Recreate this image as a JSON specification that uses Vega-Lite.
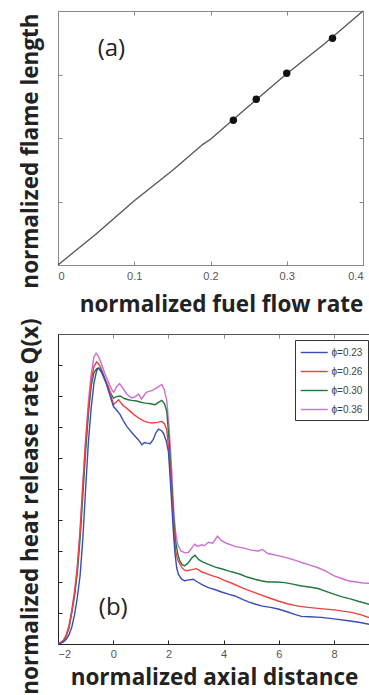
{
  "$schema": "https://vega.github.io/schema/vega-lite/v6.json",
  "padding": {"left": 18, "top": 7, "right": 0, "bottom": 0},
  "background": "white",
  "bounds": "flush",
  "spacing": 69,
  "config": {
    "view": {"stroke": "#888", "strokeWidth": 1},
    "axis": {
      "titleFont": "Open Sans", "titleFontWeight": "bold", "titleFontSize": 22.5, "titleColor": "#222",
      "labelFont": "Liberation Sans Narrow, Liberation Sans, sans-serif", "labelFontSize": 11, "labelColor": "#555",
      "domainColor": "#888", "tickColor": "#888", "grid": false, "tickSize": -4
    }
  },
  "datasets": {
    "flame": [
      {"q": 0, "L": 0}, {"q": 0.05, "L": 0.049}, {"q": 0.1, "L": 0.101}, {"q": 0.15, "L": 0.149},
      {"q": 0.19, "L": 0.19}, {"q": 0.2, "L": 0.198}, {"q": 0.25, "L": 0.25}, {"q": 0.3, "L": 0.301},
      {"q": 0.35, "L": 0.349}, {"q": 0.4, "L": 0.4}
    ],
    "pts": [
      {"q": 0.23, "L": 0.228}, {"q": 0.26, "L": 0.261}, {"q": 0.3, "L": 0.302}, {"q": 0.36, "L": 0.357}
    ],
    "lab_a": [{"q": 0.07, "L": 0.34, "t": "(a)"}],
    "lab_b": [{"x": 0.0, "Q": 1.16, "t": "(b)"}],
    "curves": [
      {"phi": "ϕ=0.36", "x": -2.0, "Q": 0.02}, {"phi": "ϕ=0.36", "x": -1.9, "Q": 0.05}, {"phi": "ϕ=0.36", "x": -1.8, "Q": 0.12}, {"phi": "ϕ=0.36", "x": -1.7, "Q": 0.3}, {"phi": "ϕ=0.36", "x": -1.6, "Q": 0.6}, {"phi": "ϕ=0.36", "x": -1.5, "Q": 1.1}, {"phi": "ϕ=0.36", "x": -1.4, "Q": 1.7}, {"phi": "ϕ=0.36", "x": -1.3, "Q": 2.5}, {"phi": "ϕ=0.36", "x": -1.2, "Q": 3.7}, {"phi": "ϕ=0.36", "x": -1.1, "Q": 5.2}, {"phi": "ϕ=0.36", "x": -1.0, "Q": 6.6}, {"phi": "ϕ=0.36", "x": -0.9, "Q": 7.8}, {"phi": "ϕ=0.36", "x": -0.8, "Q": 8.7}, {"phi": "ϕ=0.36", "x": -0.7, "Q": 9.25}, {"phi": "ϕ=0.36", "x": -0.62, "Q": 9.38}, {"phi": "ϕ=0.36", "x": -0.55, "Q": 9.3}, {"phi": "ϕ=0.36", "x": -0.45, "Q": 9.1}, {"phi": "ϕ=0.36", "x": -0.35, "Q": 8.85}, {"phi": "ϕ=0.36", "x": -0.25, "Q": 8.6}, {"phi": "ϕ=0.36", "x": -0.15, "Q": 8.4}, {"phi": "ϕ=0.36", "x": -0.05, "Q": 8.2}, {"phi": "ϕ=0.36", "x": 0.02, "Q": 8.12}, {"phi": "ϕ=0.36", "x": 0.12, "Q": 8.3}, {"phi": "ϕ=0.36", "x": 0.23, "Q": 8.4}, {"phi": "ϕ=0.36", "x": 0.35, "Q": 8.25}, {"phi": "ϕ=0.36", "x": 0.5, "Q": 8.05}, {"phi": "ϕ=0.36", "x": 0.67, "Q": 7.94}, {"phi": "ϕ=0.36", "x": 0.8, "Q": 7.98}, {"phi": "ϕ=0.36", "x": 0.92, "Q": 8.06}, {"phi": "ϕ=0.36", "x": 1.02, "Q": 7.9}, {"phi": "ϕ=0.36", "x": 1.1, "Q": 8.0}, {"phi": "ϕ=0.36", "x": 1.2, "Q": 8.12}, {"phi": "ϕ=0.36", "x": 1.3, "Q": 8.15}, {"phi": "ϕ=0.36", "x": 1.45, "Q": 8.2}, {"phi": "ϕ=0.36", "x": 1.6, "Q": 8.28}, {"phi": "ϕ=0.36", "x": 1.76, "Q": 8.37}, {"phi": "ϕ=0.36", "x": 1.85, "Q": 8.2}, {"phi": "ϕ=0.36", "x": 1.94, "Q": 7.85}, {"phi": "ϕ=0.36", "x": 2.02, "Q": 7.0}, {"phi": "ϕ=0.36", "x": 2.08, "Q": 6.2}, {"phi": "ϕ=0.36", "x": 2.14, "Q": 5.2}, {"phi": "ϕ=0.36", "x": 2.2, "Q": 4.2}, {"phi": "ϕ=0.36", "x": 2.26, "Q": 3.6}, {"phi": "ϕ=0.36", "x": 2.34, "Q": 3.2}, {"phi": "ϕ=0.36", "x": 2.45, "Q": 3.0}, {"phi": "ϕ=0.36", "x": 2.6, "Q": 2.94}, {"phi": "ϕ=0.36", "x": 2.72, "Q": 2.95}, {"phi": "ϕ=0.36", "x": 2.85, "Q": 3.1}, {"phi": "ϕ=0.36", "x": 2.95, "Q": 3.22}, {"phi": "ϕ=0.36", "x": 3.05, "Q": 3.15}, {"phi": "ϕ=0.36", "x": 3.2, "Q": 3.2}, {"phi": "ϕ=0.36", "x": 3.3, "Q": 3.17}, {"phi": "ϕ=0.36", "x": 3.45, "Q": 3.28}, {"phi": "ϕ=0.36", "x": 3.6, "Q": 3.25}, {"phi": "ϕ=0.36", "x": 3.78, "Q": 3.48}, {"phi": "ϕ=0.36", "x": 3.9, "Q": 3.35}, {"phi": "ϕ=0.36", "x": 4.1, "Q": 3.25}, {"phi": "ϕ=0.36", "x": 4.4, "Q": 3.15}, {"phi": "ϕ=0.36", "x": 4.7, "Q": 3.1}, {"phi": "ϕ=0.36", "x": 5.0, "Q": 3.03}, {"phi": "ϕ=0.36", "x": 5.25, "Q": 3.0}, {"phi": "ϕ=0.36", "x": 5.4, "Q": 3.05}, {"phi": "ϕ=0.36", "x": 5.6, "Q": 2.92}, {"phi": "ϕ=0.36", "x": 5.97, "Q": 2.85}, {"phi": "ϕ=0.36", "x": 6.3, "Q": 2.78}, {"phi": "ϕ=0.36", "x": 6.6, "Q": 2.7}, {"phi": "ϕ=0.36", "x": 6.82, "Q": 2.63}, {"phi": "ϕ=0.36", "x": 7.1, "Q": 2.55}, {"phi": "ϕ=0.36", "x": 7.42, "Q": 2.46}, {"phi": "ϕ=0.36", "x": 7.7, "Q": 2.35}, {"phi": "ϕ=0.36", "x": 8.0, "Q": 2.2}, {"phi": "ϕ=0.36", "x": 8.25, "Q": 2.12}, {"phi": "ϕ=0.36", "x": 8.5, "Q": 2.04}, {"phi": "ϕ=0.36", "x": 8.8, "Q": 2.0}, {"phi": "ϕ=0.36", "x": 9.05, "Q": 1.97}, {"phi": "ϕ=0.36", "x": 9.3, "Q": 1.96},

      {"phi": "ϕ=0.30", "x": -2.0, "Q": 0.02}, {"phi": "ϕ=0.30", "x": -1.9, "Q": 0.04}, {"phi": "ϕ=0.30", "x": -1.8, "Q": 0.1}, {"phi": "ϕ=0.30", "x": -1.7, "Q": 0.25}, {"phi": "ϕ=0.30", "x": -1.6, "Q": 0.52}, {"phi": "ϕ=0.30", "x": -1.5, "Q": 1.0}, {"phi": "ϕ=0.30", "x": -1.4, "Q": 1.55}, {"phi": "ϕ=0.30", "x": -1.3, "Q": 2.3}, {"phi": "ϕ=0.30", "x": -1.2, "Q": 3.4}, {"phi": "ϕ=0.30", "x": -1.1, "Q": 4.8}, {"phi": "ϕ=0.30", "x": -1.0, "Q": 6.2}, {"phi": "ϕ=0.30", "x": -0.9, "Q": 7.4}, {"phi": "ϕ=0.30", "x": -0.8, "Q": 8.3}, {"phi": "ϕ=0.30", "x": -0.7, "Q": 8.75}, {"phi": "ϕ=0.30", "x": -0.6, "Q": 8.88}, {"phi": "ϕ=0.30", "x": -0.52, "Q": 8.9}, {"phi": "ϕ=0.30", "x": -0.42, "Q": 8.75}, {"phi": "ϕ=0.30", "x": -0.3, "Q": 8.5}, {"phi": "ϕ=0.30", "x": -0.2, "Q": 8.3}, {"phi": "ϕ=0.30", "x": -0.1, "Q": 8.1}, {"phi": "ϕ=0.30", "x": 0.01, "Q": 7.93}, {"phi": "ϕ=0.30", "x": 0.12, "Q": 7.98}, {"phi": "ϕ=0.30", "x": 0.25, "Q": 8.0}, {"phi": "ϕ=0.30", "x": 0.4, "Q": 7.92}, {"phi": "ϕ=0.30", "x": 0.55, "Q": 7.88}, {"phi": "ϕ=0.30", "x": 0.67, "Q": 7.86}, {"phi": "ϕ=0.30", "x": 0.85, "Q": 7.84}, {"phi": "ϕ=0.30", "x": 1.0, "Q": 7.8}, {"phi": "ϕ=0.30", "x": 1.16, "Q": 7.77}, {"phi": "ϕ=0.30", "x": 1.3, "Q": 7.76}, {"phi": "ϕ=0.30", "x": 1.52, "Q": 7.72}, {"phi": "ϕ=0.30", "x": 1.65, "Q": 7.8}, {"phi": "ϕ=0.30", "x": 1.76, "Q": 7.86}, {"phi": "ϕ=0.30", "x": 1.86, "Q": 7.75}, {"phi": "ϕ=0.30", "x": 1.94, "Q": 7.5}, {"phi": "ϕ=0.30", "x": 2.02, "Q": 6.6}, {"phi": "ϕ=0.30", "x": 2.08, "Q": 5.7}, {"phi": "ϕ=0.30", "x": 2.14, "Q": 4.8}, {"phi": "ϕ=0.30", "x": 2.2, "Q": 3.9}, {"phi": "ϕ=0.30", "x": 2.26, "Q": 3.3}, {"phi": "ϕ=0.30", "x": 2.34, "Q": 2.9}, {"phi": "ϕ=0.30", "x": 2.41, "Q": 2.68}, {"phi": "ϕ=0.30", "x": 2.5, "Q": 2.56}, {"phi": "ϕ=0.30", "x": 2.58, "Q": 2.52}, {"phi": "ϕ=0.30", "x": 2.7, "Q": 2.6}, {"phi": "ϕ=0.30", "x": 2.85, "Q": 2.78}, {"phi": "ϕ=0.30", "x": 2.96, "Q": 2.86}, {"phi": "ϕ=0.30", "x": 3.1, "Q": 2.72}, {"phi": "ϕ=0.30", "x": 3.25, "Q": 2.64}, {"phi": "ϕ=0.30", "x": 3.45, "Q": 2.57}, {"phi": "ϕ=0.30", "x": 3.7, "Q": 2.48}, {"phi": "ϕ=0.30", "x": 3.95, "Q": 2.42}, {"phi": "ϕ=0.30", "x": 4.2, "Q": 2.35}, {"phi": "ϕ=0.30", "x": 4.41, "Q": 2.3}, {"phi": "ϕ=0.30", "x": 4.6, "Q": 2.25}, {"phi": "ϕ=0.30", "x": 4.85, "Q": 2.16}, {"phi": "ϕ=0.30", "x": 5.13, "Q": 2.09}, {"phi": "ϕ=0.30", "x": 5.35, "Q": 2.04}, {"phi": "ϕ=0.30", "x": 5.6, "Q": 2.0}, {"phi": "ϕ=0.30", "x": 5.9, "Q": 2.0}, {"phi": "ϕ=0.30", "x": 6.21, "Q": 1.98}, {"phi": "ϕ=0.30", "x": 6.5, "Q": 1.93}, {"phi": "ϕ=0.30", "x": 6.82, "Q": 1.87}, {"phi": "ϕ=0.30", "x": 7.1, "Q": 1.84}, {"phi": "ϕ=0.30", "x": 7.42, "Q": 1.79}, {"phi": "ϕ=0.30", "x": 7.7, "Q": 1.7}, {"phi": "ϕ=0.30", "x": 8.02, "Q": 1.6}, {"phi": "ϕ=0.30", "x": 8.3, "Q": 1.52}, {"phi": "ϕ=0.30", "x": 8.62, "Q": 1.45}, {"phi": "ϕ=0.30", "x": 8.9, "Q": 1.37}, {"phi": "ϕ=0.30", "x": 9.3, "Q": 1.27},

      {"phi": "ϕ=0.26", "x": -2.0, "Q": 0.02}, {"phi": "ϕ=0.26", "x": -1.9, "Q": 0.05}, {"phi": "ϕ=0.26", "x": -1.8, "Q": 0.12}, {"phi": "ϕ=0.26", "x": -1.7, "Q": 0.28}, {"phi": "ϕ=0.26", "x": -1.6, "Q": 0.58}, {"phi": "ϕ=0.26", "x": -1.5, "Q": 1.05}, {"phi": "ϕ=0.26", "x": -1.4, "Q": 1.65}, {"phi": "ϕ=0.26", "x": -1.3, "Q": 2.45}, {"phi": "ϕ=0.26", "x": -1.2, "Q": 3.6}, {"phi": "ϕ=0.26", "x": -1.1, "Q": 5.1}, {"phi": "ϕ=0.26", "x": -1.0, "Q": 6.5}, {"phi": "ϕ=0.26", "x": -0.9, "Q": 7.6}, {"phi": "ϕ=0.26", "x": -0.8, "Q": 8.45}, {"phi": "ϕ=0.26", "x": -0.7, "Q": 8.95}, {"phi": "ϕ=0.26", "x": -0.6, "Q": 9.1}, {"phi": "ϕ=0.26", "x": -0.5, "Q": 9.0}, {"phi": "ϕ=0.26", "x": -0.4, "Q": 8.8}, {"phi": "ϕ=0.26", "x": -0.3, "Q": 8.55}, {"phi": "ϕ=0.26", "x": -0.17, "Q": 8.3}, {"phi": "ϕ=0.26", "x": -0.08, "Q": 8.0}, {"phi": "ϕ=0.26", "x": 0.01, "Q": 7.72}, {"phi": "ϕ=0.26", "x": 0.1, "Q": 7.8}, {"phi": "ϕ=0.26", "x": 0.19, "Q": 7.88}, {"phi": "ϕ=0.26", "x": 0.35, "Q": 7.7}, {"phi": "ϕ=0.26", "x": 0.55, "Q": 7.56}, {"phi": "ϕ=0.26", "x": 0.75, "Q": 7.4}, {"phi": "ϕ=0.26", "x": 0.92, "Q": 7.29}, {"phi": "ϕ=0.26", "x": 1.1, "Q": 7.2}, {"phi": "ϕ=0.26", "x": 1.25, "Q": 7.15}, {"phi": "ϕ=0.26", "x": 1.4, "Q": 7.13}, {"phi": "ϕ=0.26", "x": 1.6, "Q": 7.15}, {"phi": "ϕ=0.26", "x": 1.76, "Q": 7.18}, {"phi": "ϕ=0.26", "x": 1.86, "Q": 7.1}, {"phi": "ϕ=0.26", "x": 1.94, "Q": 6.9}, {"phi": "ϕ=0.26", "x": 2.02, "Q": 6.2}, {"phi": "ϕ=0.26", "x": 2.08, "Q": 5.4}, {"phi": "ϕ=0.26", "x": 2.14, "Q": 4.5}, {"phi": "ϕ=0.26", "x": 2.2, "Q": 3.6}, {"phi": "ϕ=0.26", "x": 2.26, "Q": 3.0}, {"phi": "ϕ=0.26", "x": 2.34, "Q": 2.7}, {"phi": "ϕ=0.26", "x": 2.48, "Q": 2.47}, {"phi": "ϕ=0.26", "x": 2.58, "Q": 2.38}, {"phi": "ϕ=0.26", "x": 2.66, "Q": 2.36}, {"phi": "ϕ=0.26", "x": 2.85, "Q": 2.4}, {"phi": "ϕ=0.26", "x": 3.02, "Q": 2.43}, {"phi": "ϕ=0.26", "x": 3.2, "Q": 2.33}, {"phi": "ϕ=0.26", "x": 3.4, "Q": 2.26}, {"phi": "ϕ=0.26", "x": 3.6, "Q": 2.2}, {"phi": "ϕ=0.26", "x": 3.81, "Q": 2.14}, {"phi": "ϕ=0.26", "x": 4.0, "Q": 2.06}, {"phi": "ϕ=0.26", "x": 4.3, "Q": 1.96}, {"phi": "ϕ=0.26", "x": 4.65, "Q": 1.82}, {"phi": "ϕ=0.26", "x": 5.0, "Q": 1.7}, {"phi": "ϕ=0.26", "x": 5.3, "Q": 1.6}, {"phi": "ϕ=0.26", "x": 5.61, "Q": 1.5}, {"phi": "ϕ=0.26", "x": 6.0, "Q": 1.38}, {"phi": "ϕ=0.26", "x": 6.34, "Q": 1.29}, {"phi": "ϕ=0.26", "x": 6.7, "Q": 1.22}, {"phi": "ϕ=0.26", "x": 7.06, "Q": 1.18}, {"phi": "ϕ=0.26", "x": 7.5, "Q": 1.14}, {"phi": "ϕ=0.26", "x": 8.02, "Q": 1.1}, {"phi": "ϕ=0.26", "x": 8.3, "Q": 1.06}, {"phi": "ϕ=0.26", "x": 8.63, "Q": 1.02}, {"phi": "ϕ=0.26", "x": 8.95, "Q": 0.95}, {"phi": "ϕ=0.26", "x": 9.3, "Q": 0.84},

      {"phi": "ϕ=0.23", "x": -2.0, "Q": 0.01}, {"phi": "ϕ=0.23", "x": -1.9, "Q": 0.03}, {"phi": "ϕ=0.23", "x": -1.8, "Q": 0.07}, {"phi": "ϕ=0.23", "x": -1.7, "Q": 0.15}, {"phi": "ϕ=0.23", "x": -1.6, "Q": 0.3}, {"phi": "ϕ=0.23", "x": -1.5, "Q": 0.55}, {"phi": "ϕ=0.23", "x": -1.4, "Q": 0.95}, {"phi": "ϕ=0.23", "x": -1.3, "Q": 1.5}, {"phi": "ϕ=0.23", "x": -1.2, "Q": 2.2}, {"phi": "ϕ=0.23", "x": -1.1, "Q": 3.4}, {"phi": "ϕ=0.23", "x": -1.0, "Q": 5.0}, {"phi": "ϕ=0.23", "x": -0.9, "Q": 6.5}, {"phi": "ϕ=0.23", "x": -0.8, "Q": 7.6}, {"phi": "ϕ=0.23", "x": -0.7, "Q": 8.4}, {"phi": "ϕ=0.23", "x": -0.6, "Q": 8.82}, {"phi": "ϕ=0.23", "x": -0.52, "Q": 8.9}, {"phi": "ϕ=0.23", "x": -0.42, "Q": 8.8}, {"phi": "ϕ=0.23", "x": -0.29, "Q": 8.52}, {"phi": "ϕ=0.23", "x": -0.15, "Q": 8.1}, {"phi": "ϕ=0.23", "x": 0.01, "Q": 7.66}, {"phi": "ϕ=0.23", "x": 0.12, "Q": 7.55}, {"phi": "ϕ=0.23", "x": 0.25, "Q": 7.4}, {"phi": "ϕ=0.23", "x": 0.37, "Q": 7.2}, {"phi": "ϕ=0.23", "x": 0.49, "Q": 7.02}, {"phi": "ϕ=0.23", "x": 0.6, "Q": 6.9}, {"phi": "ϕ=0.23", "x": 0.74, "Q": 6.75}, {"phi": "ϕ=0.23", "x": 0.9, "Q": 6.6}, {"phi": "ϕ=0.23", "x": 1.04, "Q": 6.43}, {"phi": "ϕ=0.23", "x": 1.13, "Q": 6.5}, {"phi": "ϕ=0.23", "x": 1.22, "Q": 6.48}, {"phi": "ϕ=0.23", "x": 1.34, "Q": 6.46}, {"phi": "ϕ=0.23", "x": 1.45, "Q": 6.6}, {"phi": "ϕ=0.23", "x": 1.55, "Q": 6.82}, {"phi": "ϕ=0.23", "x": 1.64, "Q": 6.93}, {"phi": "ϕ=0.23", "x": 1.75, "Q": 6.88}, {"phi": "ϕ=0.23", "x": 1.82, "Q": 6.8}, {"phi": "ϕ=0.23", "x": 1.92, "Q": 6.55}, {"phi": "ϕ=0.23", "x": 2.0, "Q": 6.2}, {"phi": "ϕ=0.23", "x": 2.06, "Q": 5.4}, {"phi": "ϕ=0.23", "x": 2.12, "Q": 4.5}, {"phi": "ϕ=0.23", "x": 2.18, "Q": 3.6}, {"phi": "ϕ=0.23", "x": 2.24, "Q": 2.9}, {"phi": "ϕ=0.23", "x": 2.3, "Q": 2.45}, {"phi": "ϕ=0.23", "x": 2.36, "Q": 2.25}, {"phi": "ϕ=0.23", "x": 2.47, "Q": 2.1}, {"phi": "ϕ=0.23", "x": 2.58, "Q": 2.04}, {"phi": "ϕ=0.23", "x": 2.75, "Q": 2.07}, {"phi": "ϕ=0.23", "x": 2.9, "Q": 2.09}, {"phi": "ϕ=0.23", "x": 3.05, "Q": 2.0}, {"phi": "ϕ=0.23", "x": 3.25, "Q": 1.9}, {"phi": "ϕ=0.23", "x": 3.45, "Q": 1.82}, {"phi": "ϕ=0.23", "x": 3.7, "Q": 1.75}, {"phi": "ϕ=0.23", "x": 3.95, "Q": 1.67}, {"phi": "ϕ=0.23", "x": 4.2, "Q": 1.6}, {"phi": "ϕ=0.23", "x": 4.41, "Q": 1.55}, {"phi": "ϕ=0.23", "x": 4.7, "Q": 1.43}, {"phi": "ϕ=0.23", "x": 4.9, "Q": 1.36}, {"phi": "ϕ=0.23", "x": 5.13, "Q": 1.29}, {"phi": "ϕ=0.23", "x": 5.4, "Q": 1.22}, {"phi": "ϕ=0.23", "x": 5.7, "Q": 1.18}, {"phi": "ϕ=0.23", "x": 5.97, "Q": 1.13}, {"phi": "ϕ=0.23", "x": 6.3, "Q": 1.04}, {"phi": "ϕ=0.23", "x": 6.6, "Q": 0.95}, {"phi": "ϕ=0.23", "x": 6.82, "Q": 0.89}, {"phi": "ϕ=0.23", "x": 7.1, "Q": 0.88}, {"phi": "ϕ=0.23", "x": 7.54, "Q": 0.86}, {"phi": "ϕ=0.23", "x": 8.0, "Q": 0.81}, {"phi": "ϕ=0.23", "x": 8.51, "Q": 0.75}, {"phi": "ϕ=0.23", "x": 8.9, "Q": 0.7}, {"phi": "ϕ=0.23", "x": 9.3, "Q": 0.63}
    ]
  },
  "vconcat": [
    {
      "width": 305,
      "height": 254,
      "layer": [
        {
          "data": {"name": "flame"},
          "mark": {"type": "line", "color": "#555", "strokeWidth": 1.3},
          "encoding": {
            "x": {"field": "q", "type": "quantitative", "scale": {"domain": [0, 0.4], "nice": false},
                  "axis": {"orient": "bottom", "values": [0, 0.1, 0.2, 0.3, 0.4], "format": "~g", "labelPadding": 9, "title": "normalized fuel flow rate", "titlePadding": 12, "titleX": 163}},
            "y": {"field": "L", "type": "quantitative", "scale": {"domain": [0, 0.4], "nice": false},
                  "axis": {"orient": "left", "values": [0.1, 0.2, 0.3], "labels": false, "title": "normalized flame length", "titlePadding": 15, "titleY": 139.5}}
          }
        },
        {
          "data": {"name": "pts"},
          "mark": {"type": "point", "filled": true, "color": "#111", "size": 55, "opacity": 1},
          "encoding": {
            "x": {"field": "q", "type": "quantitative", "axis": {"orient": "top", "values": [0.1, 0.2, 0.3], "labels": false, "title": null, "domain": false}},
            "y": {"field": "L", "type": "quantitative", "axis": {"orient": "right", "values": [0.1, 0.2, 0.3], "labels": false, "title": null, "domain": false}}
          }
        },
        {
          "data": {"name": "lab_a"},
          "mark": {"type": "text", "font": "Open Sans", "fontSize": 24, "color": "#222"},
          "encoding": {
            "x": {"field": "q", "type": "quantitative", "axis": null},
            "y": {"field": "L", "type": "quantitative", "axis": null},
            "text": {"field": "t"}
          }
        }
      ],
      "resolve": {"axis": {"x": "independent", "y": "independent"}}
    },
    {
      "width": 312,
      "height": 310,
      "view": {"stroke": "#555"},
      "layer": [
        {
          "data": {"name": "curves"},
          "mark": {"type": "line", "strokeWidth": 1.4, "clip": true},
          "encoding": {
            "x": {"field": "x", "type": "quantitative", "scale": {"domain": [-2, 9.3], "nice": false},
                  "axis": {"orient": "bottom", "values": [-2, 0, 2, 4, 6, 8], "labelPadding": 8, "domainColor": "#222", "tickColor": "#222", "title": "normalized axial distance", "titlePadding": 7}},
            "y": {"field": "Q", "type": "quantitative", "scale": {"domain": [0, 10], "nice": false},
                  "axis": {"orient": "left", "values": [1, 2, 3, 4, 5, 6, 7, 8, 9], "labels": false, "domainColor": "#222", "tickColor": "#222", "title": "normalized heat release rate Q(x)", "titlePadding": 15, "titleY": 172}},
            "color": {"field": "phi", "type": "nominal",
                      "scale": {"domain": ["ϕ=0.23", "ϕ=0.26", "ϕ=0.30", "ϕ=0.36"], "range": ["#3a4db5", "#f04040", "#23773d", "#cf6fcf"]},
                      "legend": {"title": null, "orient": "none", "legendX": 237, "legendY": 329, "symbolType": "M-1,0H3", "symbolSize": 182, "symbolStrokeWidth": 1.4,
                                 "labelFont": "Liberation Sans Narrow, Liberation Sans, sans-serif", "labelFontSize": 10, "labelColor": "#444",
                                 "strokeColor": "#333", "fillColor": "white", "padding": 5, "rowPadding": 6, "labelOffset": 16.5}}
          }
        },
        {
          "data": {"name": "lab_b"},
          "mark": {"type": "text", "font": "Open Sans", "fontSize": 24, "color": "#222"},
          "encoding": {
            "x": {"field": "x", "type": "quantitative", "axis": {"orient": "top", "values": [0, 2, 4, 6, 8], "labels": false, "title": null, "domain": false}},
            "y": {"field": "Q", "type": "quantitative", "axis": null},
            "text": {"field": "t"}
          }
        }
      ],
      "resolve": {"axis": {"x": "independent", "y": "independent"}}
    }
  ]
}
